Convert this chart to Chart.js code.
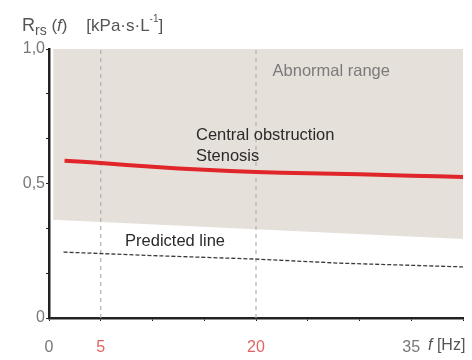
<!DOCTYPE html>
<html>
<head>
<meta charset="utf-8">
<script src="https://cdn.jsdelivr.net/npm/chart.js@4/dist/chart.umd.min.js"></script>
<style>
  html, body { margin: 0; padding: 0; background: #fff; }
  #wrap { width: 472px; height: 360px; }
</style>
</head>
<body>
<div id="wrap"><canvas id="rrs"></canvas></div>
<script>
// frequency [Hz] / resistance [kPa·s·L-1]
const stenosisFreq = [1.5, 5, 10, 15, 20, 25, 30, 35, 40];
const stenosisRrs = [0.585, 0.576, 0.562, 0.551, 0.543, 0.538, 0.534, 0.529, 0.524];

const predictedFreq = [1.4, 10, 20, 28, 40];
const predictedRrs = [0.245, 0.232, 0.219, 0.204, 0.19];

// lower edge of the abnormal range (filled up to 1,0)
const abnormalFreq = [0.4, 20, 40];
const abnormalLow = [0.365, 0.33, 0.294];

const markedFreqs = [5, 20];
const xTicks = [0, 5, 10, 15, 20, 25, 30, 35, 40];
const xLabels = { 0: '0', 5: '5', 20: '20', 35: '35' };
const yTicks = [0, 1 / 6, 2 / 6, 3 / 6, 4 / 6, 5 / 6, 1];
const yLabels = { 0: '0', 0.5: '0,5', 1: '1,0' };

const FONT = '"Liberation Sans", Arial, sans-serif';

function pts(xs, ys) {
    return xs.map((x, i) => ({ x: x, y: ys[i] }));
}

const notes = [
    { text: 'Abnormal range', x: 21.6, y: 0.915, color: '#7a7a7a' },
    { text: 'Central obstruction', x: 14.2, y: 0.68, color: '#2a2a2a' },
    { text: 'Stenosis', x: 14.2, y: 0.602, color: '#2a2a2a' },
    { text: 'Predicted line', x: 7.35, y: 0.286, color: '#2a2a2a' }
];

const textPlugin = {
    id: 'texts',
    afterDraw(chart) {
        const ctx = chart.ctx;
        const xs = chart.scales.x, ys = chart.scales.y;
        ctx.save();
        ctx.textBaseline = 'middle';
        ctx.textAlign = 'left';
        ctx.font = '16.5px ' + FONT;
        notes.forEach(n => {
            ctx.fillStyle = n.color;
            ctx.fillText(n.text, xs.getPixelForValue(n.x), ys.getPixelForValue(n.y));
        });

        // y axis title: Rrs (f) [kPa·s·L-1]
        ctx.textBaseline = 'alphabetic';
        ctx.fillStyle = '#555';
        let x = 22;
        const base = 31;
        const parts = [
            ['R', '18px ' + FONT, 0],
            ['rs', '14px ' + FONT, 4],
            [' (', '17px ' + FONT, 0],
            ['f', 'italic 17px ' + FONT, 0],
            [')    [kPa·s·L', '17px ' + FONT, 0],
            ['-1', '10px ' + FONT, -9],
            [']', '17px ' + FONT, 0]
        ];
        parts.forEach(p => {
            ctx.font = p[1];
            ctx.fillText(p[0], x, base + p[2]);
            x += ctx.measureText(p[0]).width;
        });

        // x axis unit after the last label
        ctx.textBaseline = 'middle';
        x = 428;
        ctx.font = 'italic 16px ' + FONT;
        ctx.fillText('f', x, 346);
        x += ctx.measureText('f ').width;
        ctx.font = '16px ' + FONT;
        ctx.fillText('[Hz]', x, 346);
        ctx.restore();
    }
};

const datasets = [
    {
        data: pts(stenosisFreq, stenosisRrs),
        borderColor: '#e0262a',
        borderWidth: 4,
        pointRadius: 0,
        tension: 0.3,
        order: 1
    },
    {
        data: pts(predictedFreq, predictedRrs),
        borderColor: '#3a3a3a',
        borderWidth: 1.3,
        borderDash: [4, 2],
        pointRadius: 0,
        order: 2
    }
];

markedFreqs.forEach(f => {
    datasets.push({
        data: [{ x: f, y: 0 }, { x: f, y: 1 }],
        borderColor: '#b0b0b0',
        borderWidth: 1.2,
        borderDash: [4, 4],
        pointRadius: 0,
        order: 4
    });
});

datasets.push({
    data: pts(abnormalFreq, abnormalLow),
    borderWidth: 0,
    borderColor: 'rgba(0,0,0,0)',
    backgroundColor: '#e5e0da',
    fill: 'end',
    pointRadius: 0,
    order: 5
});

new Chart(document.getElementById('rrs'), {
    type: 'line',
    data: { datasets: datasets },
    options: {
        responsive: true,
        maintainAspectRatio: false,
        animation: false,
        layout: { padding: { top: 49, right: 9, left: 0, bottom: 0 } },
        plugins: {
            legend: { display: false },
            tooltip: { enabled: false }
        },
        scales: {
            x: {
                type: 'linear',
                min: 0,
                max: 40,
                afterBuildTicks: s => { s.ticks = xTicks.map(v => ({ value: v })); },
                afterFit: s => { s.height = 42; s.paddingRight = 0; s.paddingLeft = 0; },
                border: { display: true, color: '#222', width: 2.5 },
                grid: { display: true, drawOnChartArea: false, tickLength: 3, color: '#222' },
                ticks: {
                    autoSkip: false,
                    maxRotation: 0,
                    padding: 17,
                    font: { family: FONT, size: 16 },
                    color: c => (c.tick && (c.tick.value === 5 || c.tick.value === 20)) ? '#e06464' : '#777',
                    callback: v => xLabels[v] || ''
                }
            },
            y: {
                min: 0,
                max: 1,
                afterBuildTicks: s => { s.ticks = yTicks.map(v => ({ value: v })); },
                afterFit: s => { s.width = 49; },
                border: { display: true, color: '#222', width: 2.5 },
                grid: { display: true, drawOnChartArea: false, tickLength: 3, color: '#222' },
                ticks: {
                    autoSkip: false,
                    padding: 1,
                    font: { family: FONT, size: 16 },
                    color: '#777',
                    callback: v => {
                        const r = Math.round(v * 100) / 100;
                        return yLabels[r] || '';
                    }
                }
            }
        }
    },
    plugins: [textPlugin]
});
</script>
</body>
</html>
